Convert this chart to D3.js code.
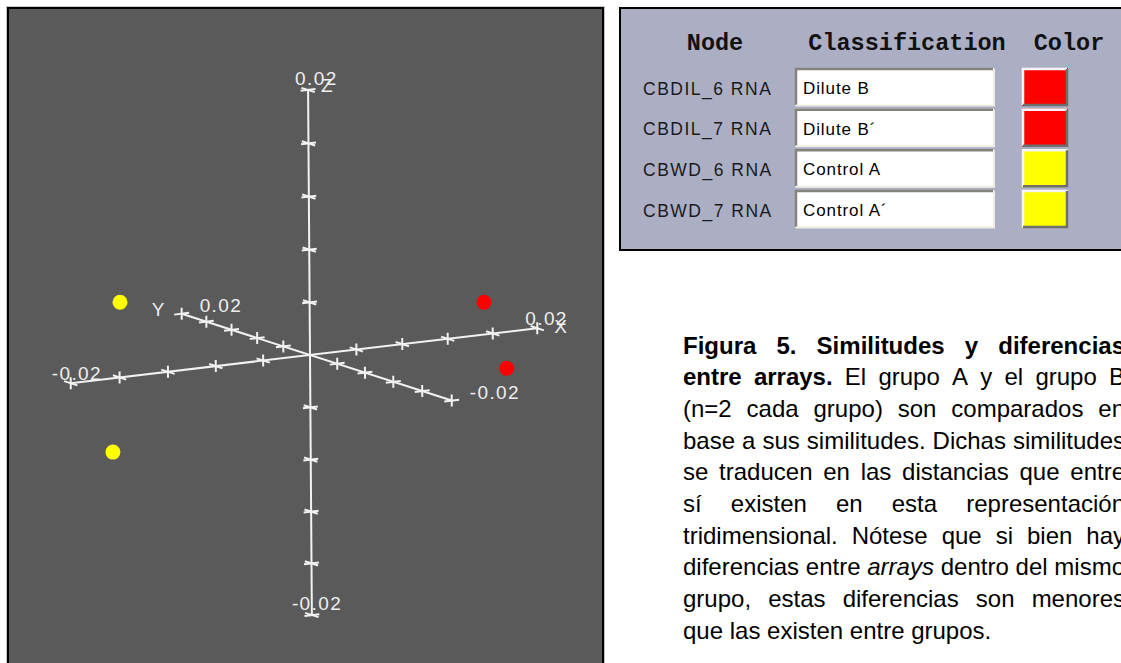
<!DOCTYPE html>
<html>
<head>
<meta charset="utf-8">
<script src="https://cdn.jsdelivr.net/npm/d3@7"></script>
<style>
  body { margin: 0; background: #fff; overflow: hidden; }
  svg { display: block; }
</style>
</head>
<body>
<svg id="fig" width="1121" height="663"></svg>
<script>
// ---- data -------------------------------------------------------------
const nodes      = ["CBDIL_6 RNA", "CBDIL_7 RNA", "CBWD_6 RNA", "CBWD_7 RNA"];
const classes    = ["Dilute B", "Dilute B\u00b4", "Control A", "Control A\u00b4"];
const nodeColors = ["#ff0000", "#ff0000", "#ffff00", "#ffff00"];
const xVals = [0.01773, 0.01345, -0.01274, -0.01872];
const yVals = [0.004, -0.006, 0.006, -0.004];
const zVals = [0.00163, -0.00144, 0.00435, -0.00454];
const axisDomain = [-0.02, 0.02];
const tickValues = [-0.02, -0.016, -0.012, -0.008, -0.004, 0, 0.004, 0.008, 0.012, 0.016, 0.02];
const endLabels  = ["-0.02", "0.02"];
const axisNames  = ["X", "Y", "Z"];
const headers    = ["Node", "Classification", "Color"];

const caption = [
  [["Figura 5. Similitudes y diferencias", "b"]],
  [["entre arrays.", "b"], ["El grupo A y el grupo B", ""]],
  [["(n=2 cada grupo) son comparados en", ""]],
  [["base a sus similitudes. Dichas similitudes", ""]],
  [["se traducen en las distancias que entre", ""]],
  [["sí existen en esta representación", ""]],
  [["tridimensional. Nótese que si bien hay", ""]],
  [["diferencias entre", ""], ["arrays", "i"], ["dentro del mismo", ""]],
  [["grupo, estas diferencias son menores", ""]],
  [["que las existen entre grupos.", ""]]
];

const svg = d3.select("#fig");
const SANS = "'Liberation Sans', Arial, Helvetica, sans-serif";

// ---- 3-D view panel ---------------------------------------------------
svg.append("rect").attr("x", 6.5).attr("y", 6.5).attr("width", 598).attr("height", 700)
  .attr("fill", "none").attr("stroke", "#c4c4c4").attr("stroke-width", 1);
svg.append("rect").attr("x", 8).attr("y", 8).attr("width", 595).attr("height", 700)
  .attr("fill", "#5a5a5a").attr("stroke", "#000").attr("stroke-width", 2);

// normalised axis scales
const sx = d3.scaleLinear().domain(axisDomain).range([-1, 1]);
const sy = d3.scaleLinear().domain(axisDomain).range([-1, 1]);
const sz = d3.scaleLinear().domain(axisDomain).range([-1, 1]);

// oblique view with a mild perspective
const view = {
  origin: [310, 355],
  ex: [233.1, -27.5],
  ey: [-134.7, -43.3],
  ez: [-1.9, -262.5],
  persp: [0.0257, 0.0496, -0.0095]
};
function project(x, y, z) {
  const u = sx(x), v = sy(y), w = sz(z);
  const d = 1 + view.persp[0] * u + view.persp[1] * v + view.persp[2] * w;
  return [
    view.origin[0] + (u * view.ex[0] + v * view.ey[0] + w * view.ez[0]) / d,
    view.origin[1] + (u * view.ex[1] + v * view.ey[1] + w * view.ez[1]) / d
  ];
}
function unit(vec) { const l = Math.hypot(vec[0], vec[1]); return [vec[0] / l, vec[1] / l]; }
const dirs = [unit(view.ex), unit(view.ey), unit(view.ez)];
const armLen = [7.5, 7, 6];

const axisPoint = (a, t) => project(a === 0 ? t : 0, a === 1 ? t : 0, a === 2 ? t : 0);
const LINE = "#f2f2f2";
const gAxes = svg.append("g").attr("stroke", LINE).attr("stroke-width", 2).attr("fill", "none");

[0, 1, 2].forEach(a => {
  const p0 = axisPoint(a, axisDomain[0]), p1 = axisPoint(a, axisDomain[1]);
  gAxes.append("line").attr("x1", p0[0]).attr("y1", p0[1]).attr("x2", p1[0]).attr("y2", p1[1]);
  const others = [0, 1, 2].filter(b => b !== a);
  tickValues.filter(t => t !== 0).forEach(t => {
    const p = axisPoint(a, t);
    others.forEach(b => {
      const dv = dirs[b], h = armLen[b];
      gAxes.append("line")
        .attr("x1", p[0] - dv[0] * h).attr("y1", p[1] - dv[1] * h)
        .attr("x2", p[0] + dv[0] * h).attr("y2", p[1] + dv[1] * h);
    });
  });
});

// end labels and axis names
const gLab = svg.append("g").attr("fill", "#efefef")
  .style("font-family", SANS).style("font-size", "19px").style("letter-spacing", "1.4px");
const numOffset  = [[-12, -3], [18, -2], [-13, -5]];
const nameOffset = [[17, 5], [-30, 2], [13, 2]];
[0, 1, 2].forEach(a => {
  axisDomain.forEach((t, i) => {
    const p = axisPoint(a, t);
    const off = numOffset[a];
    gLab.append("text").attr("x", p[0] + off[0] - (i === 0 && a !== 1 ? 7 : 0))
      .attr("y", p[1] + off[1]).text(endLabels[i]);
  });
  const pe = axisPoint(a, axisDomain[1]);
  gLab.append("text").attr("x", pe[0] + nameOffset[a][0]).attr("y", pe[1] + nameOffset[a][1])
    .text(axisNames[a]);
});

// node markers
svg.append("g").selectAll("circle").data(nodes).join("circle")
  .attr("cx", (d, i) => project(xVals[i], yVals[i], zVals[i])[0])
  .attr("cy", (d, i) => project(xVals[i], yVals[i], zVals[i])[1])
  .attr("r", 7.5)
  .attr("fill", (d, i) => nodeColors[i]);

// ---- classification table ----------------------------------------------
svg.append("rect").attr("x", 620).attr("y", 8).attr("width", 520).attr("height", 242)
  .attr("fill", "#acafc4").attr("stroke", "#000").attr("stroke-width", 2);

const rowY = d3.scalePoint().domain(nodes).range([88, 210]);
const headX = [715, 907, 1069];
svg.append("g").selectAll("text").data(headers).join("text")
  .attr("x", (d, i) => headX[i]).attr("y", 50).attr("text-anchor", "middle")
  .style("font-family", "'Liberation Mono', 'Courier New', monospace")
  .style("font-weight", "bold").style("font-size", "23.5px").attr("fill", "#111")
  .text(d => d);

const rows = svg.append("g").selectAll("g").data(nodes).join("g")
  .attr("transform", d => `translate(0,${rowY(d)})`);

rows.append("text").attr("x", 643).attr("y", 6.5)
  .style("font-family", SANS).style("font-size", "17.5px").style("letter-spacing", "1.5px")
  .attr("fill", "#1a1a1a").text(d => d);

// sunken text field
rows.append("rect").attr("x", 795).attr("y", -20).attr("width", 199).attr("height", 38)
  .attr("fill", "#fff");
rows.append("path").attr("d", "M796,17 V-19 H993").attr("fill", "none")
  .attr("stroke", "#86847a").attr("stroke-width", 2.5);
rows.append("path").attr("d", "M796,17.5 H994 V-19").attr("fill", "none")
  .attr("stroke", "#efede2").attr("stroke-width", 2);
rows.append("text").attr("x", 803).attr("y", 6)
  .style("font-family", SANS).style("font-size", "17px").style("letter-spacing", "0.9px")
  .attr("fill", "#000").text((d, i) => classes[i]);

// raised colour swatch
rows.append("rect").attr("x", 1022).attr("y", -20).attr("width", 46).attr("height", 38)
  .attr("fill", (d, i) => nodeColors[i]);
rows.append("path").attr("d", "M1023,17 V-19 H1067").attr("fill", "none")
  .attr("stroke", "#f6f6f6").attr("stroke-width", 2.5);
rows.append("path").attr("d", "M1023,17 H1067 V-19").attr("fill", "none")
  .attr("stroke", "#6e6e6e").attr("stroke-width", 2.5);

// ---- justified caption ---------------------------------------------------
const capLeft = 683, capRight = 1125, capTop = 353.5, capStep = 31.7;
const gCap = svg.append("g").style("font-family", SANS).style("font-size", "24px").attr("fill", "#000");
caption.forEach((segs, li) => {
  const words = segs.flatMap(s => s[0].split(" ").map(w => ({ w, st: s[1] })));
  const els = words.map(o => {
    const t = gCap.append("text").attr("y", capTop + li * capStep).text(o.w);
    if (o.st === "b") t.style("font-weight", "bold");
    if (o.st === "i") t.style("font-style", "italic");
    return t;
  });
  const widths = els.map(t => t.node().getComputedTextLength());
  const total = d3.sum(widths);
  const last = li === caption.length - 1;
  const spaceW = 24 * 0.278;
  const gap = last ? spaceW : (capRight - capLeft - total) / (words.length - 1);
  let x = capLeft;
  els.forEach((t, k) => { t.attr("x", x); x += widths[k] + gap; });
});
</script>
</body>
</html>
